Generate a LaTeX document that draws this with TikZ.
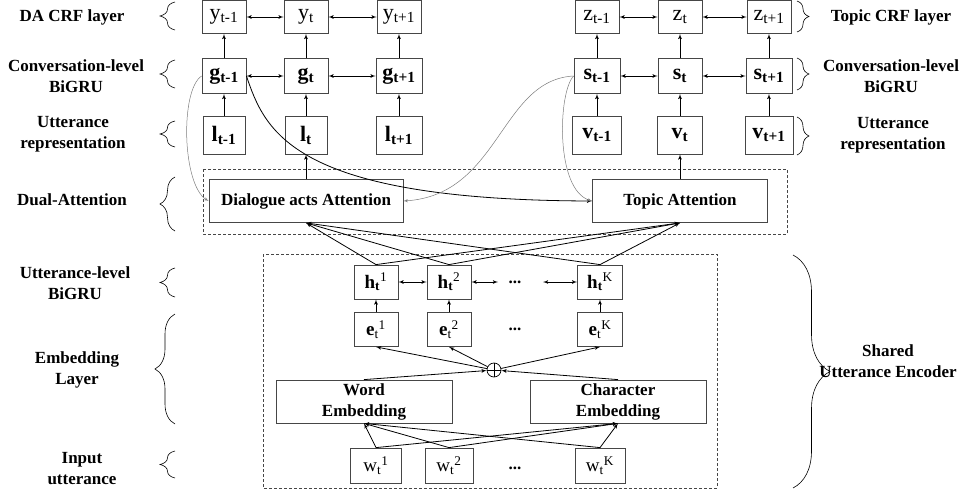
\documentclass[tikz,border=0pt]{standalone}
\usepackage{amsmath}
\usepackage{fontspec}
\setmainfont{Liberation Serif}
\usetikzlibrary{arrows,decorations.pathreplacing}
\definecolor{boxgray}{RGB}{70,70,70}
\definecolor{curvegray}{RGB}{125,125,125}

\begin{document}
\begin{tikzpicture}[x=1pt,y=-1pt]

\tikzset{cell/.style = {shape=rectangle,draw=boxgray,line width=0.8pt,minimum width=44pt,minimum height=34pt,inner sep=0pt,font=\fontsize{22}{24}\selectfont}}
\tikzset{token/.style = {cell,font=\fontsize{19}{21}\selectfont}}
\tikzset{block/.style = {shape=rectangle,draw=boxgray,line width=0.8pt,minimum height=43pt,inner sep=0pt,align=center,font=\fontsize{17}{21}\selectfont\bfseries}}
\tikzset{layer/.style = {align=center,font=\fontsize{17}{21}\selectfont\bfseries}}
\tikzset{edge/.style = {->,> = latex',line width=0.8pt}}
\tikzset{link/.style = {<->,> = latex',line width=0.8pt}}
\tikzset{soft/.style = {->,> = latex',draw=curvegray,line width=0.5pt}}
\tikzset{group/.style = {draw=boxgray,line width=0.7pt,dash pattern=on 3pt off 2pt}}
\tikzset{lbrace/.style = {decorate,decoration={brace,amplitude=15pt},line width=0.6pt}}
\tikzset{rbrace/.style = {decorate,decoration={brace,amplitude=12pt},line width=0.6pt}}
\useasboundingbox (0,0) rectangle (971,495);

% groups
\draw[group] (203,169) rectangle (787,234);
\draw[group] (263,254) rectangle (717,488);

% dialogue act side
\node[cell,minimum height=33pt] (yA) at (224,17) {y$_{\text{t-1}}$};
\node[cell,minimum height=33pt] (yB) at (306,17) {y$_{\text{t}}$};
\node[cell,minimum height=33pt] (yC) at (399,17) {y$_{\text{t+1}}$};
\node[cell,minimum height=35pt] (gA) at (224,76) {\textbf{g}$_{\textbf{t-1}}$};
\node[cell,minimum height=35pt] (gB) at (306,76) {\textbf{g}$_{\textbf{t}}$};
\node[cell,minimum height=35pt,minimum width=46pt] (gC) at (399,76) {\textbf{g}$_{\textbf{t+1}}$};
\node[cell,minimum height=38pt,minimum width=42pt] (lA) at (224,135) {\textbf{l}$_{\textbf{t-1}}$};
\node[cell,minimum height=38pt,minimum width=42pt] (lB) at (306,135) {\textbf{l}$_{\textbf{t}}$};
\node[cell,minimum height=38pt,minimum width=46pt] (lC) at (399,135) {\textbf{l}$_{\textbf{t+1}}$};

% topic side
\node[cell,minimum height=33pt] (zA) at (597,17) {z$_{\text{t-1}}$};
\node[cell,minimum height=33pt] (zB) at (680,17) {z$_{\text{t}}$};
\node[cell,minimum height=33pt] (zC) at (769,17) {z$_{\text{t+1}}$};
\node[cell,minimum height=35pt,minimum width=46pt] (sA) at (597,76) {\textbf{s}$_{\textbf{t-1}}$};
\node[cell,minimum height=35pt] (sB) at (680,76) {\textbf{s}$_{\textbf{t}}$};
\node[cell,minimum height=35pt,minimum width=46pt] (sC) at (769,76) {\textbf{s}$_{\textbf{t+1}}$};
\node[cell,minimum height=38pt,minimum width=49pt] (vA) at (597,135) {\textbf{v}$_{\textbf{t-1}}$};
\node[cell,minimum height=38pt,minimum width=45pt] (vB) at (680,135) {\textbf{v}$_{\textbf{t}}$};
\node[cell,minimum height=38pt,minimum width=48pt] (vC) at (769,135) {\textbf{v}$_{\textbf{t+1}}$};

% attention
\node[block,minimum width=194pt] (da) at (306,201) {Dialogue acts Attention};
\node[block,minimum width=175pt] (ta) at (680,201) {Topic Attention};

% utterance encoder
\node[token] (hA) at (376,282) {\textbf{h}$_{\textbf{t}}{}^{\text{1}}$};
\node[token] (hB) at (449,282) {\textbf{h}$_{\textbf{t}}{}^{\text{2}}$};
\node[layer] (hdots) at (515,282) {...};
\node[token,minimum width=45pt] (hK) at (600,282) {\textbf{h}$_{\textbf{t}}{}^{\text{K}}$};
\coordinate (hl) at (498,282);
\coordinate (hr) at (543,282);
\node[token] (eA) at (376,329.5) {\textbf{e}$_{\text{t}}{}^{\text{1}}$};
\node[token] (eB) at (449,329.5) {\textbf{e}$_{\text{t}}{}^{\text{2}}$};
\node[layer] (edots) at (515,329.5) {...};
\node[token,minimum width=45pt] (eK) at (600,329.5) {\textbf{e}$_{\text{t}}{}^{\text{K}}$};
\node[circle,draw,line width=0.7pt,minimum size=14pt,inner sep=0pt,
  path picture={\draw[line width=0.7pt] (path picture bounding box.north) -- (path picture bounding box.south)
  (path picture bounding box.west) -- (path picture bounding box.east);}] (plus) at (494,370) {};
\node[block,minimum width=176pt] (wd) at (364,401.5) {Word\\Embedding};
\node[block,minimum width=176pt] (ch) at (618,401.5) {Character\\Embedding};
\node[token,minimum width=51pt,minimum height=35pt] (wA) at (376,465.5) {w$_{\text{t}}{}^{\text{1}}$};
\node[token,minimum width=48pt,minimum height=35pt] (wB) at (449,465.5) {w$_{\text{t}}{}^{\text{2}}$};
\node[layer] (wdots) at (515,468) {...};
\node[token,minimum width=50pt,minimum height=35pt] (wK) at (600,465.5) {w$_{\text{t}}{}^{\text{K}}$};

% layer names
\node[layer] (n1) at (72,17) {DA CRF layer};
\node[layer] (n2) at (76,76) {Conversation-level\\BiGRU};
\node[layer] (n3) at (73,134) {Utterance\\representation};
\node[layer] (n4) at (72,200) {Dual-Attention};
\node[layer] (n5) at (75,283) {Utterance-level\\BiGRU};
\node[layer] (n6) at (77,370) {Embedding\\Layer};
\node[layer] (n7) at (82,469) {Input\\utterance};
\node[layer] (m1) at (891,17) {Topic CRF layer};
\node[layer] (m2) at (891,76) {Conversation-level\\BiGRU};
\node[layer] (m3) at (893,135) {Utterance\\representation};
\node[layer] (m4) at (888,361) {Shared\\Utterance Encoder};

% braces
\draw[lbrace] (175,30) -- (175,2);
\draw[lbrace] (175,88) -- (175,60);
\draw[lbrace] (175,147) -- (175,121);
\draw[lbrace] (175,231) -- (175,177);
\draw[lbrace] (175,297) -- (175,268);
\draw[lbrace,decoration={amplitude=20pt}] (175,424) -- (175,314);
\draw[lbrace] (175,478) -- (175,451);
\draw[rbrace] (797,1) -- (797,32);
\draw[rbrace] (797,58) -- (797,90);
\draw[rbrace] (797,117) -- (797,155);
\draw[rbrace,decoration={amplitude=37pt}] (793,255) -- (793,488);

%edges
\draw[link] (yA) to (yB);
\draw[link] (yB) to (yC);
\draw[link] (gA) to (gB);
\draw[link] (gB) to (gC);
\draw[link] (zA) to (zB);
\draw[link] (zB) to (zC);
\draw[link] (sA) to (sB);
\draw[link] (sB) to (sC);
\draw[edge] (gA) to (yA);
\draw[edge] (gB) to (yB);
\draw[edge] (gC) to (yC);
\draw[edge] (lA) to (gA);
\draw[edge] (lB) to (gB);
\draw[edge] (lC) to (gC);
\draw[edge] (sA) to (zA);
\draw[edge] (sB) to (zB);
\draw[edge] (sC) to (zC);
\draw[edge] (vA) to (sA);
\draw[edge] (vB) to (sB);
\draw[edge] (vC) to (sC);
\draw[edge] (da) to (lB);
\draw[edge] (ta) to (vB);
\draw[soft] (gA.west) .. controls (180,90) and (182,185) .. (da.west);
\draw[edge] (gA.east) .. controls (265,130) and (290,200) .. (ta.west);
\draw[soft] (sA.west) .. controls (500,80) and (500,195) .. (da.east);
\draw[soft] (sA.west) .. controls (558,92) and (555,190) .. (ta.west);
\draw[edge] (hA.north) to (da.south);
\draw[edge] (hB.north) to (da.south);
\draw[edge] (hK.north) to (da.south);
\draw[edge] (hA.north) to (ta.south);
\draw[edge] (hB.north) to (ta.south);
\draw[edge] (hK.north) to (ta.south);
\draw[link] (hA) to (hB);
\draw[link] (hB) to (hl);
\draw[link] (hr) to (hK);
\draw[edge] (eA) to (hA);
\draw[edge] (eB) to (hB);
\draw[edge] (eK) to (hK);
\draw[edge] (plus) to (eA.south);
\draw[edge] (plus) to (eB.south);
\draw[edge] (plus) to (eK.south);
\draw[edge] (wd.north) to (plus);
\draw[edge] (ch.north) to (plus);
\draw[edge] (wA.north) to (wd.south);
\draw[edge] (wB.north) to (wd.south);
\draw[edge] (wK.north) to (wd.south);
\draw[edge] (wA.north) to (ch.south);
\draw[edge] (wB.north) to (ch.south);
\draw[edge] (wK.north) to (ch.south);
\end{tikzpicture}
\end{document}
